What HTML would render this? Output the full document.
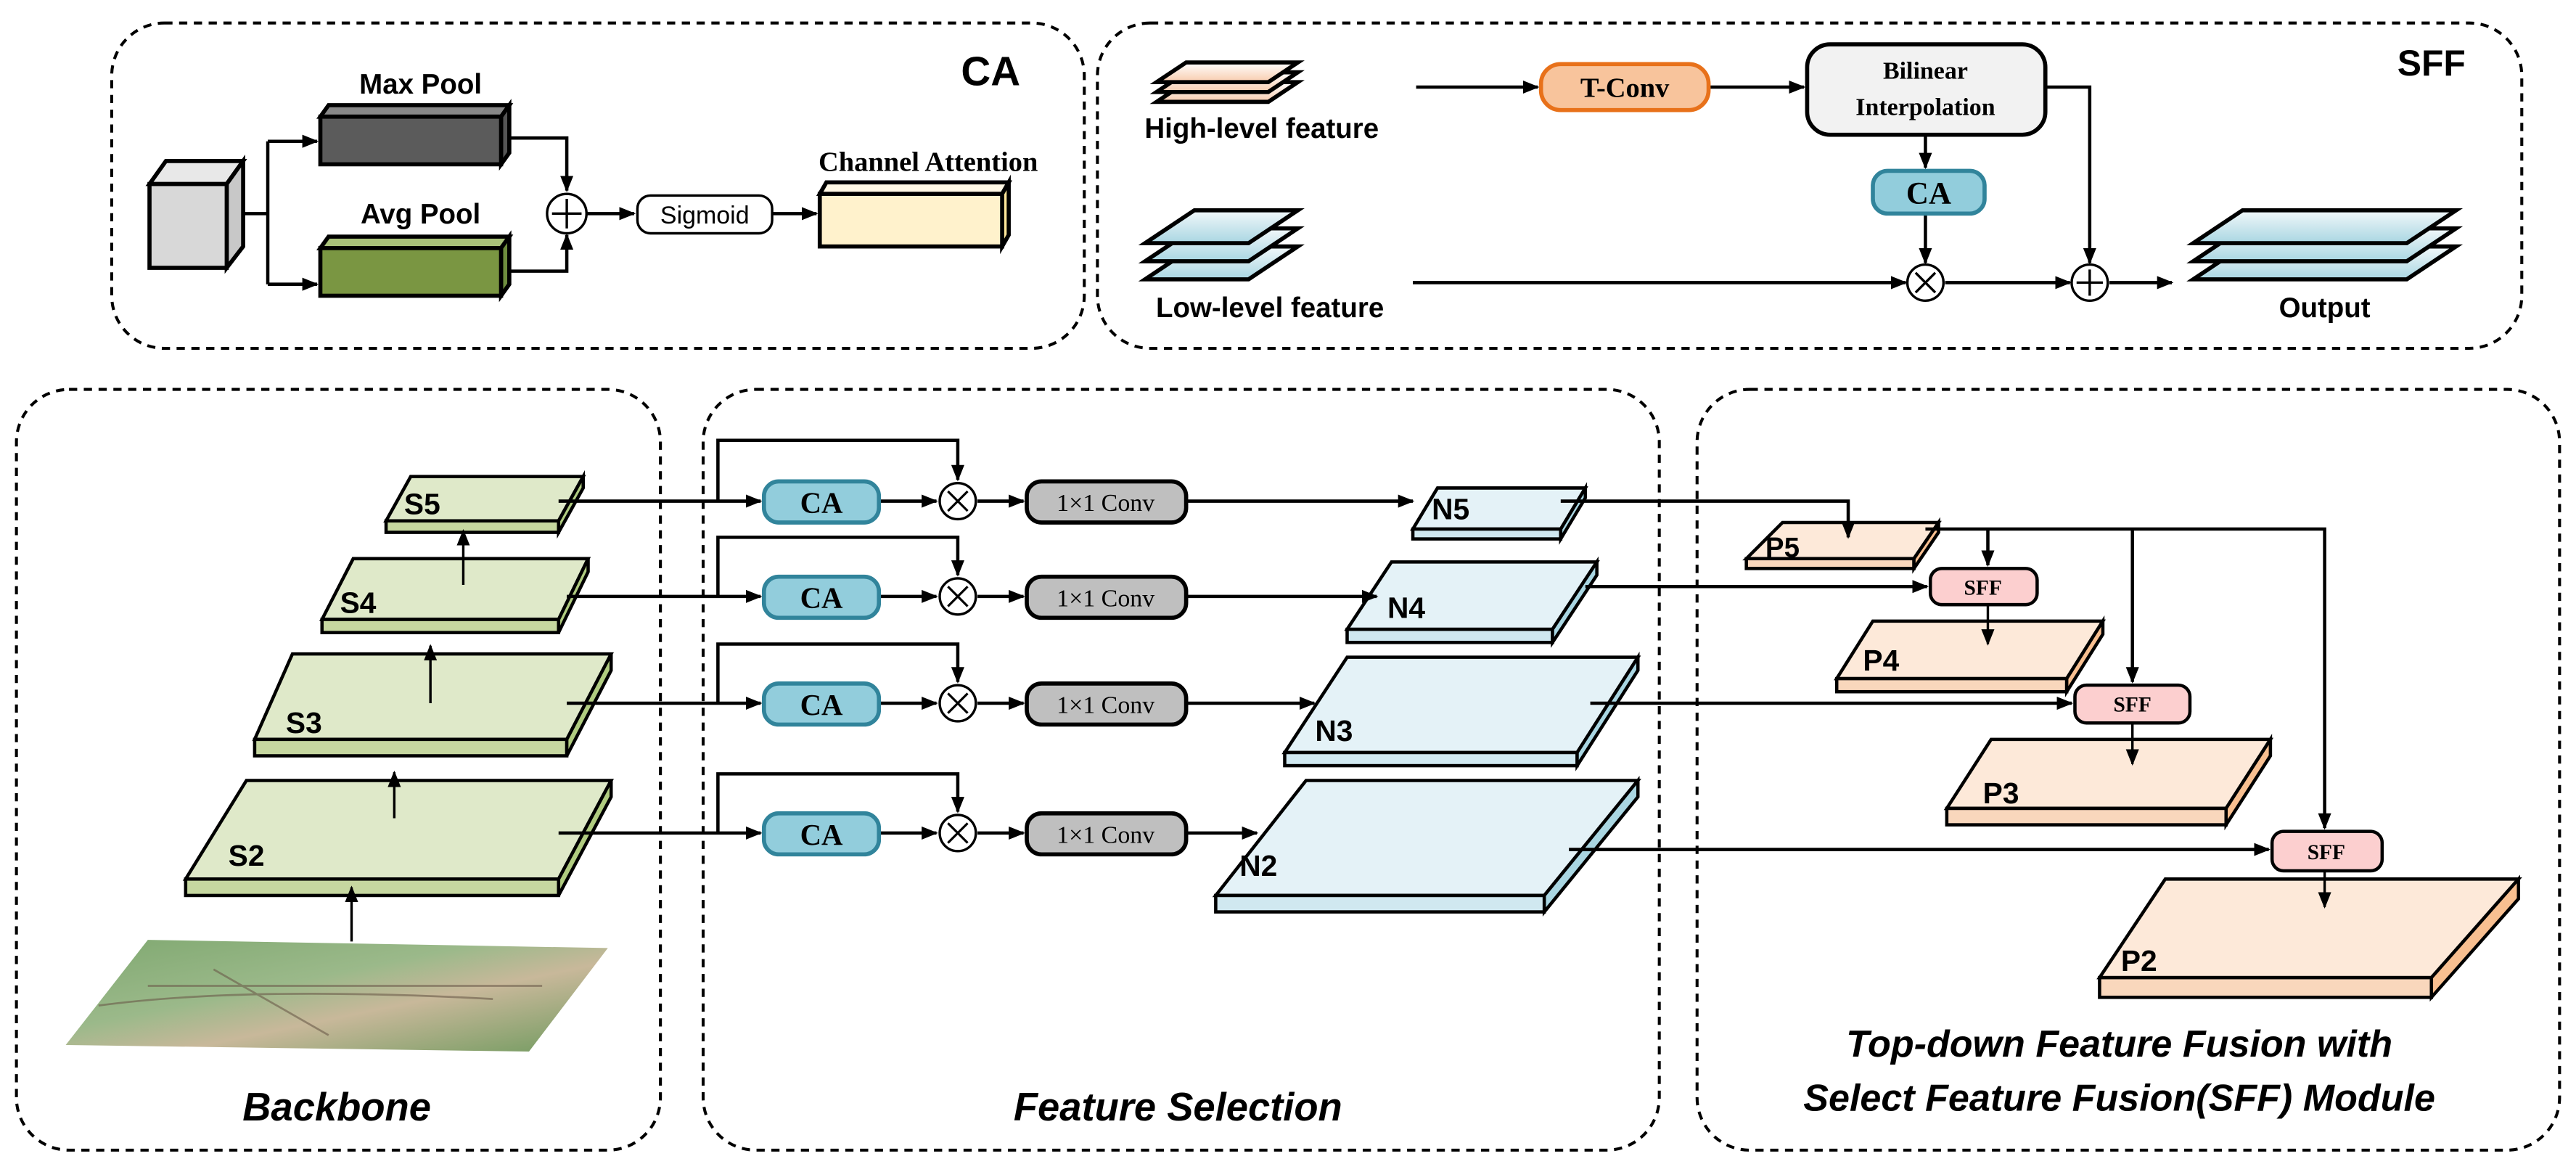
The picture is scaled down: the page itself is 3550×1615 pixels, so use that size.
<!DOCTYPE html>
<html><head><meta charset="utf-8"><style>
html,body{margin:0;padding:0;background:#fff;}
svg{display:block;}
.s{font-family:"Liberation Sans",sans-serif;font-weight:bold;}
.r{font-family:"Liberation Serif",serif;font-weight:bold;}
</style></head><body>
<svg width="3550" height="1615" viewBox="0 0 1568 713.3" preserveAspectRatio="none" xmlns="http://www.w3.org/2000/svg">
<defs>
<marker id="a" markerWidth="10" markerHeight="10" refX="9" refY="5" orient="auto" markerUnits="userSpaceOnUse"><path d="M0,1 L10,5 L0,9 z" fill="#000"/></marker>
<linearGradient id="gb" x1="0" y1="0" x2="0" y2="1"><stop offset="0" stop-color="#f2f8fa"/><stop offset="1" stop-color="#a9d6e2"/></linearGradient>
<linearGradient id="go" x1="0" y1="0" x2="0" y2="1"><stop offset="0" stop-color="#fff"/><stop offset="1" stop-color="#f8cbad"/></linearGradient>
<linearGradient id="gf" x1="0" y1="0" x2="1" y2="1"><stop offset="0" stop-color="#7fa870"/><stop offset="0.4" stop-color="#9bb98a"/><stop offset="0.6" stop-color="#c8b89a"/><stop offset="1" stop-color="#6f9a5e"/></linearGradient>
</defs>
<g fill="none" stroke="#000" stroke-width="1.8" stroke-dasharray="5,4">
<rect x="68" y="14" width="592" height="198" rx="32"/>
<rect x="668" y="14" width="867" height="198" rx="32"/>
<rect x="10" y="237" width="392" height="463" rx="32"/>
<rect x="428" y="237" width="582" height="463" rx="32"/>
<rect x="1033" y="237" width="525" height="463" rx="32"/>
</g>

<!-- CA module -->
<g stroke="#000" stroke-width="2.5">
<polygon points="91,112 138,112 148,98 101,98" fill="#e8e8e8"/>
<polygon points="138,112 148,98 148,150 138,163" fill="#c8c8c8"/>
<rect x="91" y="112" width="47" height="51" fill="#d8d8d8"/>
<polygon points="195,71 305,71 310,64 200,64" fill="#888"/>
<polygon points="305,71 310,64 310,93 305,100" fill="#555"/>
<rect x="195" y="71" width="110" height="29" fill="#5b5b5b"/>
<polygon points="195,151 305,151 310,144 200,144" fill="#a9c27a"/>
<polygon points="305,151 310,144 310,173 305,180" fill="#6e8d3e"/>
<rect x="195" y="151" width="110" height="29" fill="#7a9642"/>
<polygon points="499,118 610,118 614,111 503,111" fill="#fff8e5"/>
<polygon points="610,118 614,111 614,143 610,150" fill="#ffe79a"/>
<rect x="499" y="118" width="111" height="32" fill="#fff2cc"/>
</g>
<g stroke="#000" stroke-width="2" fill="none">
<path d="M148,130 H163 M163,86 V173"/>
<path d="M163,86 H193" marker-end="url(#a)"/>
<path d="M163,173 H193" marker-end="url(#a)"/>
<path d="M310,84 H345 V116" marker-end="url(#a)"/>
<path d="M310,165 H345 V143" marker-end="url(#a)"/>
<path d="M357,130 H386" marker-end="url(#a)"/>
<path d="M470,130 H497" marker-end="url(#a)"/>
</g>
<circle cx="345" cy="130" r="12" fill="#fff" stroke="#000" stroke-width="1.5"/>
<path d="M345,121 V139 M336,130 H354" stroke="#000" stroke-width="1.5"/>
<rect x="388" y="119" width="82" height="23" rx="8" fill="#fff" stroke="#000" stroke-width="1.5"/>
<text x="429" y="136" font-family="Liberation Sans, sans-serif" font-size="15" text-anchor="middle">Sigmoid</text>
<text x="256" y="57" class="s" font-size="17" text-anchor="middle">Max Pool</text>
<text x="256" y="136" class="s" font-size="17" text-anchor="middle">Avg Pool</text>
<text x="565" y="104" class="r" font-size="17" text-anchor="middle">Channel Attention</text>
<text x="603" y="52" class="s" font-size="25" text-anchor="middle">CA</text>

<!-- SFF module -->
<g stroke="#000" stroke-width="2.5" fill="url(#go)">
<polygon points="722,50 790,50 772,62 704,62"/>
<polygon points="722,44 790,44 772,56 704,56"/>
<polygon points="722,38 790,38 772,50 704,50"/>
<g fill="url(#gb)">
<polygon points="727,150 790,150 760,170 697,170"/>
<polygon points="727,139 790,139 760,159 697,159"/>
<polygon points="727,128 790,128 760,148 697,148"/>
<polygon points="1365,150 1495,150 1465,170 1335,170"/>
<polygon points="1365,139 1495,139 1465,159 1335,159"/>
<polygon points="1365,128 1495,128 1465,148 1335,148"/>
</g>
</g>
<text x="768" y="84" class="s" font-size="17" text-anchor="middle">High-level feature</text>
<text x="773" y="193" class="s" font-size="17" text-anchor="middle">Low-level feature</text>
<text x="1415" y="193" class="s" font-size="17" text-anchor="middle">Output</text>
<text x="1480" y="46" class="s" font-size="22" text-anchor="middle">SFF</text>
<g stroke="#000" stroke-width="2" fill="none">
<path d="M862,53 H936" marker-end="url(#a)"/>
<path d="M1040,53 H1098" marker-end="url(#a)"/>
<path d="M1245,53 H1272 V160" marker-end="url(#a)"/>
<path d="M1172,82 V102" marker-end="url(#a)"/>
<path d="M1172,130 V160" marker-end="url(#a)"/>
<path d="M860,172 H1160" marker-end="url(#a)"/>
<path d="M1184,172 H1260" marker-end="url(#a)"/>
<path d="M1284,172 H1322" marker-end="url(#a)"/>
</g>
<rect x="938" y="39" width="102" height="28" rx="12" fill="#f8c49c" stroke="#e8711a" stroke-width="2.5"/>
<text x="989" y="59" class="r" font-size="17" text-anchor="middle">T-Conv</text>
<rect x="1100" y="27" width="145" height="55" rx="14" fill="#f2f2f2" stroke="#000" stroke-width="2.5"/>
<text x="1172" y="48" class="r" font-size="15" text-anchor="middle">Bilinear</text>
<text x="1172" y="70" class="r" font-size="15" text-anchor="middle">Interpolation</text>
<rect x="1140" y="104" width="68" height="26" rx="9" fill="#92cddc" stroke="#31849b" stroke-width="2.5"/>
<text x="1174" y="124" class="r" font-size="19" text-anchor="middle">CA</text>
<g fill="#fff" stroke="#000" stroke-width="1.5">
<circle cx="1172" cy="172" r="11"/><circle cx="1272" cy="172" r="11"/>
</g>
<path d="M1166,166 L1178,178 M1178,166 L1166,178 M1272,164 V180 M1264,172 H1280" stroke="#000" stroke-width="1.5"/>

<!-- Backbone -->
<polygon points="40,636 90,572 370,577 322,640" fill="url(#gf)"/>
<path d="M60,612 Q150,600 300,608 M130,590 L200,630 M90,600 H330" stroke="#6b5a4a" stroke-width="1.2" fill="none" opacity="0.6"/>
<g stroke="#000" stroke-width="2" fill="#dfe9c9">
<polygon points="113,535 340,535 372,475 150,475"/>
<rect x="113" y="535" width="227" height="10" fill="#c6d7a0"/>
<polygon points="340,535 372,475 372,485 340,545" fill="#b0cc80"/>
<polygon points="155,450 345,450 372,398 178,398"/>
<rect x="155" y="450" width="190" height="10" fill="#c6d7a0"/>
<polygon points="345,450 372,398 372,408 345,460" fill="#b0cc80"/>
<polygon points="196,377 340,377 358,340 215,340"/>
<rect x="196" y="377" width="144" height="8" fill="#c6d7a0"/>
<polygon points="340,377 358,340 358,348 340,385" fill="#b0cc80"/>
<polygon points="235,317 340,317 355,290 250,290"/>
<rect x="235" y="317" width="105" height="7" fill="#c6d7a0"/>
<polygon points="340,317 355,290 355,297 340,324" fill="#b0cc80"/>
</g>
<text x="150" y="527" class="s" font-size="18" text-anchor="middle">S2</text>
<text x="185" y="446" class="s" font-size="18" text-anchor="middle">S3</text>
<text x="218" y="373" class="s" font-size="18" text-anchor="middle">S4</text>
<text x="257" y="313" class="s" font-size="18" text-anchor="middle">S5</text>
<g stroke="#000" stroke-width="1.5" fill="none">
<path d="M214,573 V540" marker-end="url(#a)"/>
<path d="M240,498 V470" marker-end="url(#a)"/>
<path d="M262,428 V393" marker-end="url(#a)"/>
<path d="M282,356 V323" marker-end="url(#a)"/>
</g>
<text x="205" y="682" class="s" font-size="24" text-anchor="middle" font-style="italic">Backbone</text>

<!-- Feature selection -->
<g stroke="#000" stroke-width="2" fill="#e4f2f7">
<polygon points="740,545 940,545 997,475 795,475"/>
<rect x="740" y="545" width="200" height="10" fill="#d0e8f0"/>
<polygon points="940,545 997,475 997,485 940,555" fill="#a9d6e2"/>
<polygon points="782,458 960,458 997,400 820,400"/>
<rect x="782" y="458" width="178" height="8" fill="#d0e8f0"/>
<polygon points="960,458 997,400 997,408 960,466" fill="#a9d6e2"/>
<polygon points="820,383 945,383 972,342 847,342"/>
<rect x="820" y="383" width="125" height="8" fill="#d0e8f0"/>
<polygon points="945,383 972,342 972,350 945,391" fill="#a9d6e2"/>
<polygon points="860,322 950,322 965,297 875,297"/>
<rect x="860" y="322" width="90" height="6" fill="#d0e8f0"/>
<polygon points="950,322 965,297 965,303 950,328" fill="#a9d6e2"/>
</g>
<g fill="#fde9d9" stroke="#000" stroke-width="2">
<polygon points="1063,340 1165,340 1180,318 1085,318"/>
<rect x="1063" y="340" width="102" height="6" fill="#f9d7bc"/>
<polygon points="1165,340 1180,318 1180,324 1165,346" fill="#f8bf90"/>
<polygon points="1118,413 1258,413 1280,378 1140,378"/>
<rect x="1118" y="413" width="140" height="8" fill="#f9d7bc"/>
<polygon points="1258,413 1280,378 1280,386 1258,421" fill="#f8bf90"/>
<polygon points="1185,492 1355,492 1382,450 1212,450"/>
<rect x="1185" y="492" width="170" height="10" fill="#f9d7bc"/>
<polygon points="1355,492 1382,450 1382,460 1355,502" fill="#f8bf90"/>
<polygon points="1278,595 1480,595 1533,535 1318,535"/>
<rect x="1278" y="595" width="202" height="12" fill="#f9d7bc"/>
<polygon points="1480,595 1533,535 1533,547 1480,607" fill="#f8bf90"/>
</g>
<g stroke="#000" stroke-width="2" fill="none">
<path d="M340,305 H463" marker-end="url(#a)"/>
<path d="M345,363 H463" marker-end="url(#a)"/>
<path d="M345,428 H463" marker-end="url(#a)"/>
<path d="M340,507 H463" marker-end="url(#a)"/>
<path d="M437,305 V268 H583 V292" marker-end="url(#a)"/>
<path d="M437,363 V327 H583 V350" marker-end="url(#a)"/>
<path d="M437,428 V392 H583 V415" marker-end="url(#a)"/>
<path d="M437,507 V471 H583 V494" marker-end="url(#a)"/>
<path d="M535,305 H570" marker-end="url(#a)"/><path d="M595,305 H623" marker-end="url(#a)"/>
<path d="M535,363 H570" marker-end="url(#a)"/><path d="M595,363 H623" marker-end="url(#a)"/>
<path d="M535,428 H570" marker-end="url(#a)"/><path d="M595,428 H623" marker-end="url(#a)"/>
<path d="M535,507 H570" marker-end="url(#a)"/><path d="M595,507 H623" marker-end="url(#a)"/>
<path d="M722,305 H860" marker-end="url(#a)"/>
<path d="M722,363 H838" marker-end="url(#a)"/>
<path d="M722,428 H800" marker-end="url(#a)"/>
<path d="M722,507 H765" marker-end="url(#a)"/>
</g>
<g stroke="#31849b" stroke-width="2.5" fill="#92cddc">
<rect x="465" y="293" width="70" height="25" rx="9"/><rect x="465" y="351" width="70" height="25" rx="9"/>
<rect x="465" y="416" width="70" height="25" rx="9"/><rect x="465" y="495" width="70" height="25" rx="9"/>
</g>
<g stroke="#000" stroke-width="2.5" fill="#bfbfbf">
<rect x="625" y="293" width="97" height="25" rx="9"/><rect x="625" y="351" width="97" height="25" rx="9"/>
<rect x="625" y="416" width="97" height="25" rx="9"/><rect x="625" y="495" width="97" height="25" rx="9"/>
</g>
<g class="r" font-size="18" text-anchor="middle">
<text x="500" y="312">CA</text><text x="500" y="370">CA</text><text x="500" y="435">CA</text><text x="500" y="514">CA</text>
</g>
<g font-family="Liberation Serif, serif" font-size="15" text-anchor="middle">
<text x="673" y="311">1×1 Conv</text><text x="673" y="369">1×1 Conv</text><text x="673" y="434">1×1 Conv</text><text x="673" y="513">1×1 Conv</text>
</g>
<g fill="#fff" stroke="#000" stroke-width="1.5">
<circle cx="583" cy="305" r="11"/><circle cx="583" cy="363" r="11"/><circle cx="583" cy="428" r="11"/><circle cx="583" cy="507" r="11"/>
</g>
<path d="M577,299 L589,311 M589,299 L577,311 M577,357 L589,369 M589,357 L577,369 M577,422 L589,434 M589,422 L577,434 M577,501 L589,513 M589,501 L577,513" stroke="#000" stroke-width="1.4"/>
<text x="766" y="533" class="s" font-size="18" text-anchor="middle">N2</text>
<text x="812" y="451" class="s" font-size="18" text-anchor="middle">N3</text>
<text x="856" y="376" class="s" font-size="18" text-anchor="middle">N4</text>
<text x="883" y="316" class="s" font-size="18" text-anchor="middle">N5</text>
<text x="717" y="682" class="s" font-size="24" text-anchor="middle" font-style="italic">Feature Selection</text>

<!-- Top-down -->
<g stroke="#000" stroke-width="2" fill="none">
<path d="M950,305 H1125 V327" marker-end="url(#a)"/>
<path d="M965,357 H1173" marker-end="url(#a)"/>
<path d="M968,428 H1261" marker-end="url(#a)"/>
<path d="M955,517 H1381" marker-end="url(#a)"/>
<path d="M1172,322 H1415 V504" marker-end="url(#a)"/>
<path d="M1210,322 V344" marker-end="url(#a)"/>
<path d="M1298,322 V415" marker-end="url(#a)"/>
</g>
<g stroke="#000" stroke-width="1.5" fill="none">
<path d="M1210,368 V392" marker-end="url(#a)"/>
<path d="M1298,440 V465" marker-end="url(#a)"/>
<path d="M1415,530 V552" marker-end="url(#a)"/>
</g>
<g stroke="#000" stroke-width="2" fill="#fccfcf">
<rect x="1175" y="346" width="65" height="22" rx="7"/>
<rect x="1263" y="417" width="70" height="23" rx="7"/>
<rect x="1383" y="506" width="67" height="24" rx="7"/>
</g>
<g class="r" font-size="13" text-anchor="middle">
<text x="1207" y="362">SFF</text><text x="1298" y="433">SFF</text><text x="1416" y="523">SFF</text>
</g>
<text x="1085" y="339" class="s" font-size="17" text-anchor="middle">P5</text>
<text x="1145" y="408" class="s" font-size="18" text-anchor="middle">P4</text>
<text x="1218" y="489" class="s" font-size="18" text-anchor="middle">P3</text>
<text x="1302" y="591" class="s" font-size="18" text-anchor="middle">P2</text>
<text x="1290" y="643" class="s" font-size="23" text-anchor="middle" font-style="italic">Top-down Feature Fusion with</text>
<text x="1290" y="676" class="s" font-size="23" text-anchor="middle" font-style="italic">Select Feature Fusion(SFF) Module</text>
</svg>
</body></html>
